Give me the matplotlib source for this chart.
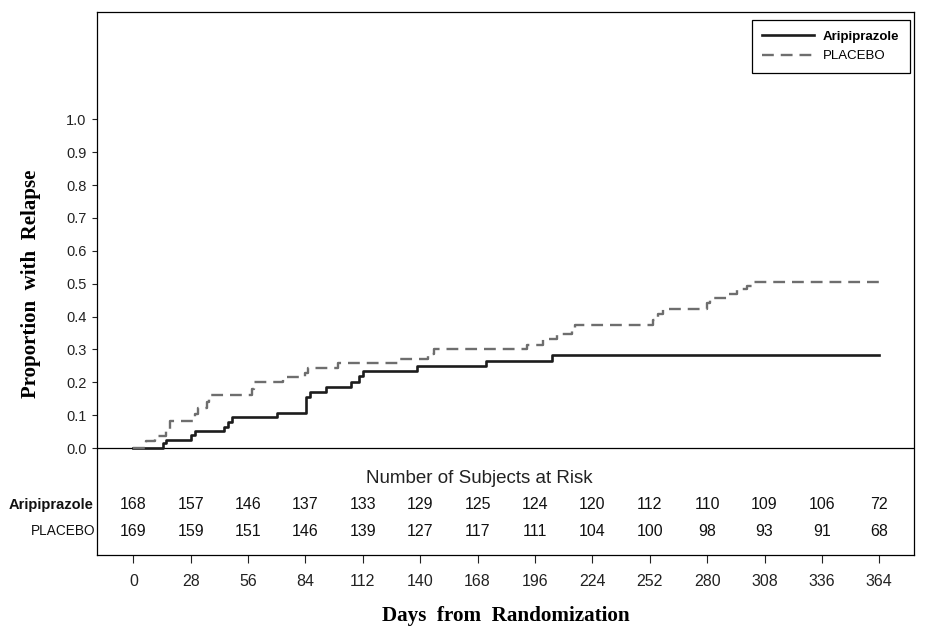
import matplotlib
matplotlib.use("Agg")
import matplotlib.pyplot as plt

plt.rcParams['lines.scale_dashes'] = False
plt.rcParams['font.family'] = ['Liberation Sans', 'DejaVu Sans']

# ---- data ----
ari_days = [0, 14.3, 16, 28, 30.1, 44.3, 46.4, 48.3, 70, 84.2, 86.2, 94, 106.2,
            110.1, 112, 138.2, 172.1, 204.1, 364]
ari_prop = [0, 0.014, 0.025, 0.039, 0.052, 0.065, 0.080, 0.095, 0.108, 0.156,
            0.171, 0.186, 0.202, 0.218, 0.234, 0.249, 0.266, 0.283, 0.283]

pbo_days = [0, 6.2, 10.6, 15.8, 18, 30.1, 31.5, 35.8, 37, 57.8, 59, 73.2, 83.8,
            85.4, 100, 129.5, 143.9, 146.8, 192, 200, 206.6, 214, 215.5, 253.7,
            256, 258.5, 279.8, 281.4, 289.5, 294.4, 299.3, 301.7, 364]
pbo_prop = [0, 0.022, 0.036, 0.058, 0.083, 0.104, 0.122, 0.141, 0.161, 0.18,
            0.2, 0.215, 0.229, 0.244, 0.258, 0.27, 0.285, 0.3, 0.314, 0.331,
            0.347, 0.36, 0.374, 0.39, 0.407, 0.423, 0.44, 0.455, 0.47, 0.483,
            0.493, 0.506, 0.506]

risk_days = [0, 28, 56, 84, 112, 140, 168, 196, 224, 252, 280, 308, 336, 364]
ari_risk = [168, 157, 146, 137, 133, 129, 125, 124, 120, 112, 110, 109, 106, 72]
pbo_risk = [169, 159, 151, 146, 139, 127, 117, 111, 104, 100, 98, 93, 91, 68]
y_ticks = [0.0, 0.1, 0.2, 0.3, 0.4, 0.5, 0.6, 0.7, 0.8, 0.9, 1.0]

series_names = ['Aripiprazole', 'PLACEBO']
ari_color = '#1c1c1c'
pbo_color = '#6e6e6e'

# ---- figure ----
W, H = 932, 644
fig = plt.figure(figsize=(W / 100, H / 100), dpi=100)
L, R, T, B = 97.3, 914.3, 12.3, 555.0
ax = fig.add_axes([L / W, 1 - B / H, (R - L) / W, (B - T) / H])

ax.set_xlim(-17.6, 381.1)
ax.set_ylim(-0.3255, 1.3255)

ax.axhline(0, color='black', lw=0.9, zorder=1)

ax.step(ari_days, ari_prop, where='post', color=ari_color, lw=1.9,
        label=series_names[0], zorder=2)
ax.step(pbo_days, pbo_prop, where='post', color=pbo_color, lw=1.7,
        dashes=(8.5, 5.0), label=series_names[1], zorder=3)

for s in ax.spines.values():
    s.set_linewidth(0.9)
    s.set_color('black')

ax.set_yticks(y_ticks)
ax.set_yticklabels([f"{v:.1f}" for v in y_ticks])
ax.tick_params(axis='y', direction='out', length=3.6, width=0.8, pad=4.2,
               labelsize=10.5, colors='#222222')
ax.set_xticks(risk_days)
ax.set_xticklabels([str(d) for d in risk_days])
ax.tick_params(axis='x', direction='out', length=5.8, width=0.8, pad=8.0,
               labelsize=11.5, colors='#222222')
ax.tick_params(top=False, right=False)

ax.set_ylabel('Proportion  with  Relapse', family='Liberation Serif',
              fontweight='bold', fontsize=15, labelpad=18)
ax.set_xlabel('Days  from  Randomization', family='Liberation Serif',
              fontweight='bold', fontsize=15.2, labelpad=12)

# risk table
ax.text(168.7, -0.094, 'Number of Subjects at Risk', ha='center', va='center',
        fontsize=13.5, color='#222222')
for d, a, p in zip(risk_days, ari_risk, pbo_risk):
    ax.text(d, -0.173, str(a), ha='center', va='center', fontsize=11.5,
            color='#111111')
    ax.text(d, -0.2525, str(p), ha='center', va='center', fontsize=11.5,
            color='#111111')
ax.text(-19.4, -0.173, series_names[0], ha='right', va='center',
        fontsize=10.5, fontweight='bold', color='#111111')
ax.text(-18.6, -0.2525, series_names[1], ha='right', va='center',
        fontsize=9.8, color='#111111')

leg = ax.legend(loc='upper right', bbox_to_anchor=(0.9947, 0.9858),
                borderaxespad=0, frameon=True, fancybox=False,
                edgecolor='black', framealpha=1, fontsize=9.5,
                handlelength=3.9, handletextpad=0.7, labelspacing=0.55,
                borderpad=0.8)
leg.get_frame().set_linewidth(0.9)
leg.get_texts()[0].set_fontweight('bold')

fig.savefig('out.png', dpi=100)
